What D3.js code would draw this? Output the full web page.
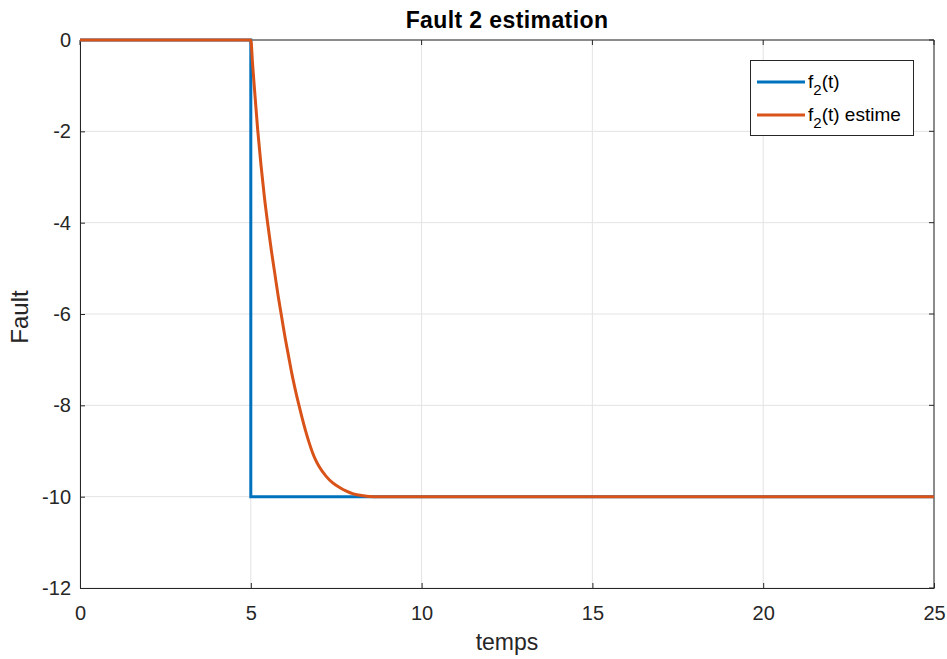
<!DOCTYPE html>
<html><head><meta charset="utf-8">
<script src="https://cdn.jsdelivr.net/npm/d3@7"></script>
<style>body{margin:0;background:#fff}</style>
</head><body>
<svg id="c" width="947" height="659"></svg>
<script>
const xTicks = [0,5,10,15,20,25];
const yTicks = [0,-2,-4,-6,-8,-10,-12];
const faultT = [0,5,5,25];
const faultV = [0,0,-10,-10];
const estT = [0,5,5.05,5.1,5.2,5.3,5.4,5.5,5.6,5.7,5.8,5.9,6.0,6.1,6.2,6.3,6.4,6.5,6.6,6.7,6.8,6.9,7.0,7.2,7.4,7.6,7.8,8.0,8.3,8.6,25];
const estV = [0,0,-0.5,-1.0,-1.95,-2.75,-3.45,-4.05,-4.6,-5.1,-5.6,-6.05,-6.5,-6.9,-7.3,-7.65,-7.97,-8.27,-8.55,-8.8,-9.02,-9.2,-9.34,-9.55,-9.7,-9.8,-9.88,-9.94,-9.98,-10,-10];
const seriesNames = ["f2(t)","f2(t) estime"];
const colors = ["#0072BD","#D95319"];

const svg = d3.select("#c");
const L=80,R=934,T=40,B=588;
const x = d3.scaleLinear().domain([0,25]).range([L,R]);
const y = d3.scaleLinear().domain([-12,0]).range([B,T]);
const font = "'Liberation Sans', Arial, Helvetica, sans-serif";

// grid
svg.append("g").selectAll("line").data(xTicks).join("line")
  .attr("x1",d=>x(d)).attr("x2",d=>x(d)).attr("y1",T).attr("y2",B)
  .attr("stroke","#e3e3e3").attr("stroke-width",1);
svg.append("g").selectAll("line").data(yTicks).join("line")
  .attr("x1",L).attr("x2",R).attr("y1",d=>y(d)).attr("y2",d=>y(d))
  .attr("stroke","#e3e3e3").attr("stroke-width",1);

// axes
const fmt = d=>String(d);
const xAxis = svg.append("g").attr("transform",`translate(0,${B})`)
  .call(d3.axisBottom(x).tickValues(xTicks).tickFormat(fmt).tickSizeInner(-5).tickSizeOuter(0).tickPadding(18));
const yAxis = svg.append("g").attr("transform",`translate(${L},0)`)
  .call(d3.axisLeft(y).tickValues(yTicks).tickFormat(fmt).tickSizeInner(-5).tickSizeOuter(0).tickPadding(9));
[xAxis,yAxis].forEach(a=>{
  a.selectAll("path").attr("stroke","#262626");
  a.selectAll("line").attr("stroke","#262626");
  a.selectAll("text").attr("fill","#262626").style("font-family",font).style("font-size","20px");
});
// top & right box
svg.append("line").attr("x1",L).attr("x2",R).attr("y1",T).attr("y2",T).attr("stroke","#262626");
svg.append("line").attr("x1",R).attr("x2",R).attr("y1",T).attr("y2",B).attr("stroke","#262626");
svg.append("g").selectAll("line").data(xTicks).join("line")
  .attr("x1",d=>x(d)).attr("x2",d=>x(d)).attr("y1",T).attr("y2",T+5).attr("stroke","#262626");
svg.append("g").selectAll("line").data(yTicks).join("line")
  .attr("x1",R-5).attr("x2",R).attr("y1",d=>y(d)).attr("y2",d=>y(d)).attr("stroke","#262626");

// lines
const d1 = faultT.map((t,i)=>[t,faultV[i]]);
const d2 = estT.map((t,i)=>[t,estV[i]]);
svg.append("path").datum(d1).attr("d",d3.line().x(d=>x(d[0])).y(d=>y(d[1]))).attr("fill","none")
  .attr("stroke",colors[0]).attr("stroke-width",3);
svg.append("path").datum(d2).attr("d",d3.line().x(d=>x(d[0])).y(d=>y(d[1])).curve(d3.curveMonotoneX)).attr("fill","none")
  .attr("stroke",colors[1]).attr("stroke-width",3);

// title & labels
svg.append("text").attr("x",(L+R)/2).attr("y",28).attr("text-anchor","middle")
  .style("font-family",font).style("font-size","23px").style("font-weight","bold")
  .style("letter-spacing","0.4px").attr("fill","#000")
  .text("Fault 2 estimation");
svg.append("text").attr("x",(L+R)/2).attr("y",650).attr("text-anchor","middle")
  .style("font-family",font).style("font-size","23px").attr("fill","#262626").text("temps");
svg.append("text").attr("transform",`translate(28,${(T+B)/2+3}) rotate(-90)`).attr("text-anchor","middle")
  .style("font-family",font).style("font-size","24px").attr("fill","#262626").text("Fault");

// legend
const lg = svg.append("g");
lg.append("rect").attr("x",750.5).attr("y",60.5).attr("width",163).attr("height",75)
  .attr("fill","#fff").attr("stroke","#262626").attr("stroke-width",1);
const ly=[82,115];
seriesNames.forEach((n,i)=>{
  lg.append("line").attr("x1",757).attr("x2",805).attr("y1",ly[i]).attr("y2",ly[i])
    .attr("stroke",colors[i]).attr("stroke-width",3);
  const t = lg.append("text").attr("x",808).attr("y",ly[i]+6)
    .style("font-family",font).style("font-size","19px").attr("fill","#000");
  t.append("tspan").text("f");
  t.append("tspan").attr("dy",7).style("font-size","15px").text("2");
  t.append("tspan").attr("dy",-7).text(n.slice(2));
});
</script>
</body></html>
